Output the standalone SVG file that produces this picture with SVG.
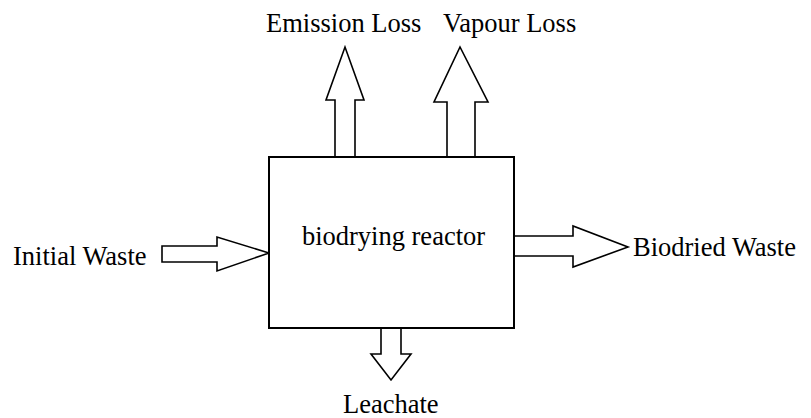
<svg xmlns="http://www.w3.org/2000/svg" width="811" height="418" viewBox="0 0 811 418">
<style>
text{font-family:"Liberation Serif","Times New Roman",serif;font-size:26.5px;fill:#000}
.box{fill:#fff;stroke:#000;stroke-width:2}
.arr{fill:#fff;stroke:#000;stroke-width:1.6;stroke-linejoin:miter}
</style>
<rect width="811" height="418" fill="#fff"/>
<g id="connectors">
<path class="arr" d="M162,246 L217,246 L217,237 L269,253 L217,271 L217,262 L162,262 Z"/>
<path class="arr" d="M514,236 L573,236 L573,226 L628,247 L573,267 L573,256 L514,256"/>
<path class="arr" d="M335,157 L335,100 L326,100 L345,47 L364,100 L355,100 L355,157"/>
<path class="arr" d="M447,157 L447,102 L434,102 L460,47 L488,102 L475,102 L475,157"/>
<path class="arr" d="M381,328 L381,354 L371,354 L391,380 L411,354 L401,354 L401,328"/>
</g>
<g id="reactor">
<rect class="box" x="269" y="157" width="245" height="171"/>
<text x="393.5" y="245" text-anchor="middle">biodrying reactor</text>
</g>
<g id="initial-waste">
<text x="13" y="265">Initial Waste</text>
</g>
<g id="biodried-waste">
<text x="633" y="256">Biodried Waste</text>
</g>
<g id="emission-loss">
<text x="266" y="32">Emission Loss</text>
</g>
<g id="vapour-loss">
<text x="443" y="32">Vapour Loss</text>
</g>
<g id="leachate">
<text x="343" y="413">Leachate</text>
</g>
</svg>
